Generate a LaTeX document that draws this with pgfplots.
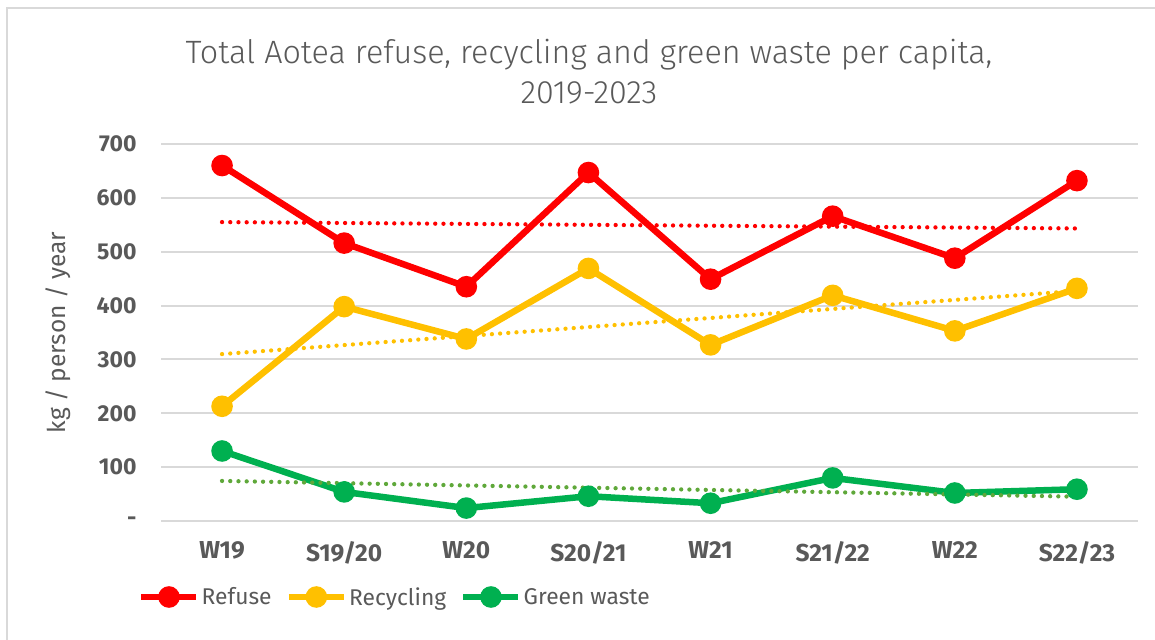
\documentclass[border=0pt]{standalone}
\usepackage{fontspec}
\setmainfont{Fira Sans}
\newfontfamily\titlefont{Fira Sans Light}
\usepackage{pgfplots}
\pgfplotsset{compat=1.18}
\definecolor{gridgray}{HTML}{D9D9D9}
\definecolor{txtgray}{HTML}{595959}
\definecolor{cRef}{HTML}{FF0000}
\definecolor{cRec}{HTML}{FFC000}
\definecolor{cGrn}{HTML}{00B050}
\definecolor{cGrnT}{HTML}{5FA83A}
\begin{document}
\begin{tikzpicture}[x=1pt,y=1pt]
\useasboundingbox (0,0) rectangle (1155,639);
\draw[gridgray, line width=2pt] (7,-2) -- (7,631) -- (1160,631);
\node[align=center, text=txtgray, font=\titlefont\fontsize{32.3}{40}\selectfont] at (589,567)
  {Total Aotea refuse, recycling and green waste per capita,\\2019-2023};
\begin{axis}[
  at={(161pt,118pt)}, anchor=south west,
  scale only axis, width=977pt, height=377pt,
  xmin=-0.5, xmax=7.5, ymin=0, ymax=700,
  clip=false,
  axis line style={draw=none},
  major tick length=0pt,
  ymajorgrids, grid style={gridgray, line width=2pt},
  xtick={0,...,7},
  xticklabels={W19,S19/20,W20,S20/21,W21,S21/22,W22,S22/23},
  ytick={0,100,...,700},
  yticklabels={-,100,200,300,400,500,600,700},
  /pgf/number format/assume math mode=true,
  ticklabel style={font=\bfseries\fontsize{23}{27}\selectfont, text=txtgray},
  yticklabel style={anchor=east, xshift=-21pt},
  xticklabel style={anchor=north, yshift=-17pt, font=\bfseries\fontsize{24.5}{28}\selectfont},
  ylabel={kg / person / year},
  ylabel style={at={(axis description cs:-0.1054,0.5)}, anchor=center, font=\fontsize{24.5}{28}\selectfont, text=txtgray},
  legend columns=3,
  legend style={at={(-0.0235,-0.2016)}, anchor=west, draw=none, fill=none, inner sep=0pt,
    font=\fontsize{22.8}{27}\selectfont, text=txtgray,
    /tikz/every even column/.append style={column sep=12pt},
    cells={inner xsep=3pt}},
  legend image code/.code={
    \draw[mark repeat=2, mark phase=2, #1] plot coordinates {(0pt,0pt) (27.5pt,0pt) (55pt,0pt)};
  },
  every axis plot/.append style={line width=6.5pt, mark=*, mark size=7.5pt, mark options={solid}},
]
\addplot[cRef] coordinates {(0,660) (1,516) (2,435) (3,647) (4,449) (5,566) (6,488) (7,632)};
\addlegendentry{Refuse}
\addplot[cRec] coordinates {(0,213) (1,398) (2,338) (3,469) (4,327) (5,419) (6,353) (7,432)};
\addlegendentry{Recycling}
\addplot[cGrn] coordinates {(0,130) (1,54) (2,24) (3,46) (4,33) (5,80) (6,52) (7,59)};
\addlegendentry{Green waste}
% linear trendlines
\addplot[cRef, forget plot, mark=none, line width=4.3pt, line cap=round, dash pattern=on 0pt off 8.2pt] coordinates {(0,555.0) (7,543.2)};
\addplot[cRec, forget plot, mark=none, line width=4.3pt, line cap=round, dash pattern=on 0pt off 8.2pt] coordinates {(0,309.9) (7,427.3)};
\addplot[cGrnT, forget plot, mark=none, line width=4.3pt, line cap=round, dash pattern=on 0pt off 8.2pt] coordinates {(0,74.4) (7,45.1)};
\end{axis}
\end{tikzpicture}
\end{document}
